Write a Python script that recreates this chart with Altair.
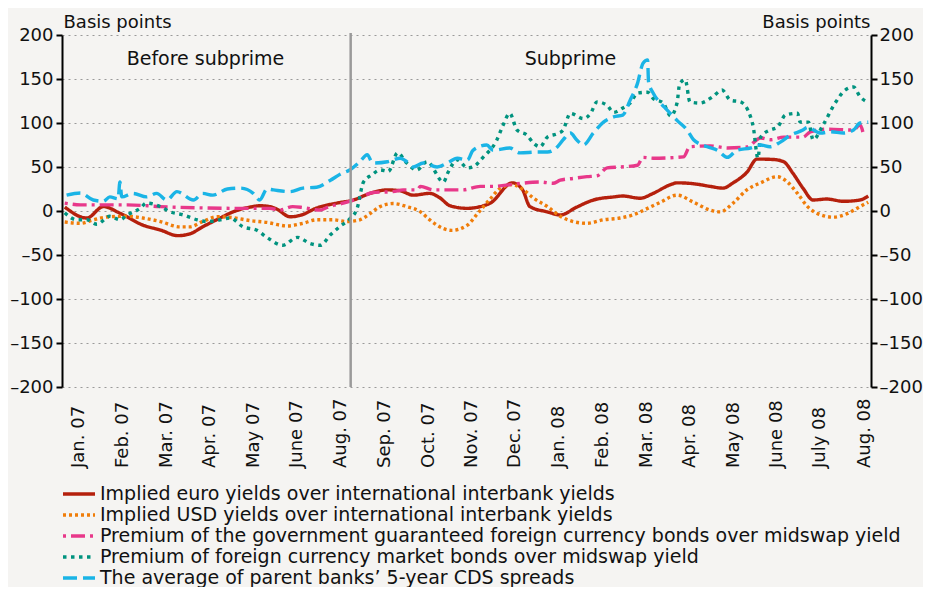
import altair as alt
import pandas as pd

FONT = "DejaVu Sans"
BG = "#f5f4f2"
TXT = "#111111"

series_names = [
    "Implied euro yields over international interbank yields",
    "Implied USD yields over international interbank yields",
    "Premium of the government  guaranteed foreign currency bonds over midswap yield",
    "Premium of foreign currency market bonds over midswap yield",
    "The average of parent banks\u2019 5-year CDS spreads",
]
series_colors = ["#b5200d", "#f07d0a", "#e8388a", "#00937f", "#1ab4e6"]
series_dashes = [[1, 0], [3, 3], [3, 5, 14, 5], [3.5, 4.5], [14, 6]]

# x positions are in weeks since the start of January 2007
month_labels = ["Jan. 07", "Feb. 07", "Mar. 07", "Apr. 07", "May 07", "June 07",
                "Aug. 07", "Sep. 07", "Oct. 07", "Nov. 07", "Dec. 07", "Jan. 08",
                "Feb. 08", "Mar. 08", "Apr. 08", "May 08", "June 08", "July 08", "Aug. 08"]
month_pos = [1.9, 6.6, 11.4, 16.1, 20.9, 25.6, 30.4, 35.1, 39.9, 44.6, 49.3, 54.1,
             58.8, 63.6, 68.3, 73.1, 77.8, 82.5, 87.3]

euro_x = [0.3, 2.7, 4.5, 6.3, 8.8, 10.7, 12.6, 13.9, 15.3, 17.2, 18.6, 20.5, 21.5, 22.6,
          23.4, 24.8, 25.9, 27.7, 29.9, 31.7, 33.5, 35.4, 36.8, 38.2, 40.0, 41.1, 42.2,
          44.1, 45.5, 46.6, 49.0, 50.1, 50.9, 52.8, 54.2, 56.0, 57.8, 60.0, 61.0, 62.9,
          64.3, 66.2, 66.9, 68.7, 70.5, 71.9, 73.0, 74.5, 75.6, 77.4, 78.5, 79.5, 80.6,
          81.7, 83.2, 85.0, 86.8, 87.7]
euro_y = [4.5, -8, 5, -2.5, -16, -21.6, -28, -26, -18, -8, -1, 4.5, 6, 5,
          2, -6.6, -5, 3.4, 9, 12.5, 20, 24, 23, 18, 20, 15, 6,
          3, 5, 9, 32, 24, 5, -1, -4.5, 4.5, 12.5, 16, 17, 14.5,
          20, 30, 32, 31, 28, 26, 32, 44, 59, 58.5, 56, 43, 26,
          12.5, 13.6, 11, 12.5, 17]

usd_x = [0.3, 2.0, 3.4, 5.2, 7.1, 8.8, 10.7, 12.8, 13.9, 15.3, 16.9, 18.6, 20.5, 22.3,
         24.5, 26.2, 27.7, 29.5, 31.0, 32.4, 33.5, 34.6, 36.0, 37.5, 39.0, 40.0, 41.5,
         42.4, 44.1, 45.2, 46.6, 47.7, 49.0, 50.2, 51.3, 52.8, 54.2, 55.6, 57.1, 58.9,
         60.7, 62.1, 63.7, 65.1, 66.9, 68.7, 70.5, 71.6, 73.0, 74.5, 76.0, 77.8, 78.9,
         80.0, 81.1, 82.2, 83.9, 85.4, 86.8, 87.7]
usd_y = [-12.5, -14, -10, -6.5, -6, -8, -12, -18, -18, -12, -6.5, -7.6, -11, -13,
         -17, -14, -10, -10, -12, -10, -3, 5, 8.5, 5, -1, -10, -20,
         -22, -16, -3, 14, 26, 30, 24, 14.5, 5, -6, -12, -14, -10,
         -8, -4.5, 3, 10, 18, 10, 1, -1, 9, 24, 32, 39, 33,
         20, 5, -3, -7, -3, 5, 10]

gov_x = [0.3, 2.0, 4.5, 7.1, 10.7, 15.3, 19.0, 22.6, 23.7, 25.1, 26.2, 28.1, 28.8, 30.6,
         32.4, 33.8, 36.0, 37.1, 38.6, 39.0, 40.4, 43.6, 45.5, 46.9, 49.5, 52.0, 53.4,
         54.2, 55.6, 57.1, 58.2, 59.3, 60.7, 62.6, 63.2, 64.3, 67.6, 68.3, 70.5, 72.4,
         74.5, 76.0, 77.1, 78.5, 80.6, 81.4, 83.2, 86.1, 86.8, 87.2]
gov_y = [9, 7, 7, 7, 5, 3.5, 3, 3, 1, 5, 4, 1, 4, 9,
         15, 21, 22, 24, 24, 28, 24, 24, 28, 28, 31, 33, 31.5,
         35, 37, 39, 40, 49, 50, 52, 61, 60, 61.5, 73, 74, 71.6,
         72.7, 83, 81, 84, 84, 90, 93, 92, 98, 86]

mkt_x = [0.3, 1.6, 2.7, 3.8, 5.2, 6.3, 7.1, 8.5, 9.2, 10.7, 11.8, 13.2, 14.7, 15.8,
         17.2, 18.3, 19.7, 21.2, 22.3, 24.0, 25.6, 27.0, 28.1, 29.2, 30.3, 31.3, 32.1,
         32.8, 33.7, 34.6, 35.5, 36.5, 37.5, 38.6, 39.7, 41.5, 42.0, 43.0, 44.1, 44.7,
         45.8, 47.3, 48.0, 48.7, 49.5, 50.6, 51.3, 52.0, 52.8, 53.9, 54.5, 55.3, 56.7,
         57.5, 58.2, 59.3, 60.0, 61.0, 61.8, 62.6, 63.7, 64.3, 65.4, 66.2, 66.9, 67.2,
         67.8, 68.3, 69.4, 70.8, 71.8, 72.7, 73.8, 74.9, 75.2, 75.7, 76.0, 77.0, 77.8,
         78.7, 80.0, 80.3, 81.2, 81.7, 82.8, 84.1, 85.2, 86.1, 86.8, 87.6]
mkt_y = [-2, -10, -10, -15, -6, -10, -4.5, 3, 9, 5, -1, -4.5, -10, -12,
         -10, -8, -18, -22, -30, -39, -30, -37, -39, -27, -17, -9, 3,
         33, 41, 46.6, 45, 66, 54.5, 46.6, 56, 33, 44, 58, 49, 50,
         61, 80.7, 98, 111, 92, 86, 77, 73, 84, 88, 92, 111, 105,
         111, 124, 120, 112, 117, 122.7, 134, 135, 128, 122.7, 108, 122.7, 145,
         149, 124, 122.7, 130, 137.5, 126, 124, 107, 95, 60, 84, 92, 95,
         109, 111, 101, 101, 81, 98, 122.7, 137.5, 141, 130, 124]

cds_x = [0.5, 2.0, 3.4, 4.5, 5.2, 6.1, 6.3, 6.5, 7.7, 9.2, 10.3, 11.4, 12.5, 14.3,
         15.3, 16.4, 18.0, 19.4, 20.8, 21.5, 22.3, 23.0, 24.8, 26.2, 27.7, 29.2, 30.3,
         31.3, 32.4, 33.2, 33.8, 35.4, 36.8, 37.5, 38.2, 39.3, 40.8, 41.9, 43.0, 44.1,
         44.7, 46.2, 46.9, 48.7, 49.8, 51.7, 52.8, 53.9, 54.5, 55.3, 56.0, 56.7, 57.8,
         58.9, 60.0, 61.0, 61.8, 62.6, 63.2, 63.7, 63.8, 64.3, 65.1, 65.8, 66.9, 68.0,
         68.7, 70.2, 71.3, 72.4, 73.4, 74.9, 76.0, 77.0, 78.1, 79.2, 80.6, 81.1, 82.5,
         83.6, 85.0, 86.1, 86.8, 87.7]
cds_y = [18, 20.5, 12.5, 11, 16, 14, 33, 16, 20, 16, 20, 12.5, 22, 12.5,
         20, 18, 25, 26, 20, 12.5, 25, 24, 22, 26, 27, 35, 42,
         46.6, 56, 64, 54.5, 56, 60, 56, 50, 54.5, 50, 54.5, 60, 58,
         69, 75, 69, 71.6, 66, 67, 67, 73, 80.7, 88.6, 80.7, 75, 88.6,
         101, 107, 109, 126, 145, 168, 171.6, 147, 134, 122.7, 115, 103, 92,
         81, 73, 69, 61, 69, 71.6, 75, 73, 78, 86, 92, 95, 88.6,
         90, 88.6, 92, 100, 101]

period_labels = ["Before subprime", "Subprime"]
period_pos = [15.6, 55.3]
period_y = [172.7, 172.7]
crisis_start = [31.4]

series_x = [euro_x, usd_x, gov_x, mkt_x, cds_x]
series_y = [euro_y, usd_y, gov_y, mkt_y, cds_y]
rows = []
for name, xs, ys in zip(series_names, series_x, series_y):
    for xv, yv in zip(xs, ys):
        rows.append({"series": name, "x": xv, "y": yv})
df = pd.DataFrame(rows)

X_DOMAIN = [0, 88]
x_scale = alt.Scale(domain=X_DOMAIN, nice=False, zero=False)
y_scale = alt.Scale(domain=[-200, 200], nice=False)
y_ticks = list(range(-200, 201, 50))
x_ticks = [i * 88 / 29 for i in range(30)]
neg_label = "datum.value < 0 ? '\u2013' + abs(datum.value) : datum.label"

W, H = 809, 352


def y_axis(orient, title_align, title_x, grid, pad):
    return alt.Axis(
        orient=orient, values=y_ticks, grid=grid, gridDash=[2, 4], gridColor="#9a9a9a",
        gridWidth=1, tickSize=6, tickWidth=2, tickColor="black", domainColor="black",
        domainWidth=2, labelFont=FONT, labelFontSize=18, labelColor=TXT,
        labelPadding=pad, labelExpr=neg_label, title="Basis points", titleAngle=0,
        titleAlign=title_align, titleBaseline="alphabetic", titleX=title_x, titleY=-8,
        titleFont=FONT, titleFontSize=18, titleFontWeight="normal", titleColor=TXT)


lines = alt.Chart(df).mark_line(strokeWidth=3.4, interpolate="monotone").encode(
    x=alt.X("x:Q", scale=x_scale, axis=alt.Axis(
        orient="bottom", offset=-H / 2, values=x_ticks, labels=False, tickSize=6,
        tickWidth=2, tickColor="black", domainColor="black", domainWidth=2,
        grid=False, title=None)),
    y=alt.Y("y:Q", scale=y_scale, axis=y_axis("left", "left", 1, True, 3)),
    color=alt.Color("series:N", scale=alt.Scale(domain=series_names, range=series_colors),
                    legend=None),
    strokeDash=alt.StrokeDash("series:N", scale=alt.Scale(domain=series_names, range=series_dashes),
                              legend=None),
)

right_axis = alt.Chart(pd.DataFrame({"y": [-200, 200]})).mark_point(opacity=0).encode(
    y=alt.Y("y:Q", scale=y_scale, axis=y_axis("right", "right", -1, False, 2)),
)

sep = alt.Chart(pd.DataFrame({"x": crisis_start})).mark_rule(
    color="#9a9a9a", strokeWidth=2.5).encode(
    x=alt.X("x:Q", scale=x_scale, axis=None), y=alt.value(-2), y2=alt.value(H))

periods = alt.Chart(pd.DataFrame({"x": period_pos, "y": period_y, "t": period_labels})).mark_text(
    font=FONT, fontSize=19, color=TXT).encode(
    x=alt.X("x:Q", scale=x_scale, axis=None),
    y=alt.Y("y:Q", scale=y_scale, axis=None), text="t:N")

months = alt.Chart(pd.DataFrame({"x": month_pos, "t": month_labels})).mark_text(
    font=FONT, fontSize=18, angle=270, align="left", baseline="middle",
    color=TXT).encode(
    x=alt.X("x:Q", scale=x_scale, axis=None), y=alt.value(433), text="t:N")

# hand-built legend (one row per series)
legend_layers = []
LEG_TOP, LEG_STEP = 459, 21
for i, (name, col, dash) in enumerate(zip(series_names, series_colors, series_dashes)):
    ry = LEG_TOP + i * LEG_STEP
    legend_layers.append(
        alt.Chart(pd.DataFrame({"t": [name]})).mark_rule(
            color=col, strokeDash=dash, strokeWidth=3.5).encode(
            x=alt.value(1), x2=alt.value(33), y=alt.value(ry)))
    legend_layers.append(
        alt.Chart(pd.DataFrame({"t": [name]})).mark_text(
            align="left", baseline="middle", font=FONT, fontSize=19, color=TXT).encode(
            x=alt.value(38), y=alt.value(ry), text="t:N"))

chart = alt.layer(lines, sep, periods, months, *legend_layers, right_axis).resolve_scale(
    y="shared").resolve_axis(y="independent").properties(
    width=W, height=H,
    autosize=alt.AutoSizeParams(type="none"),
    padding={"left": 54, "top": 27, "right": 52, "bottom": 200},
    background=BG,
).configure_view(stroke=None)

chart.save("out.html", embed_options={"renderer": "svg", "actions": False})
